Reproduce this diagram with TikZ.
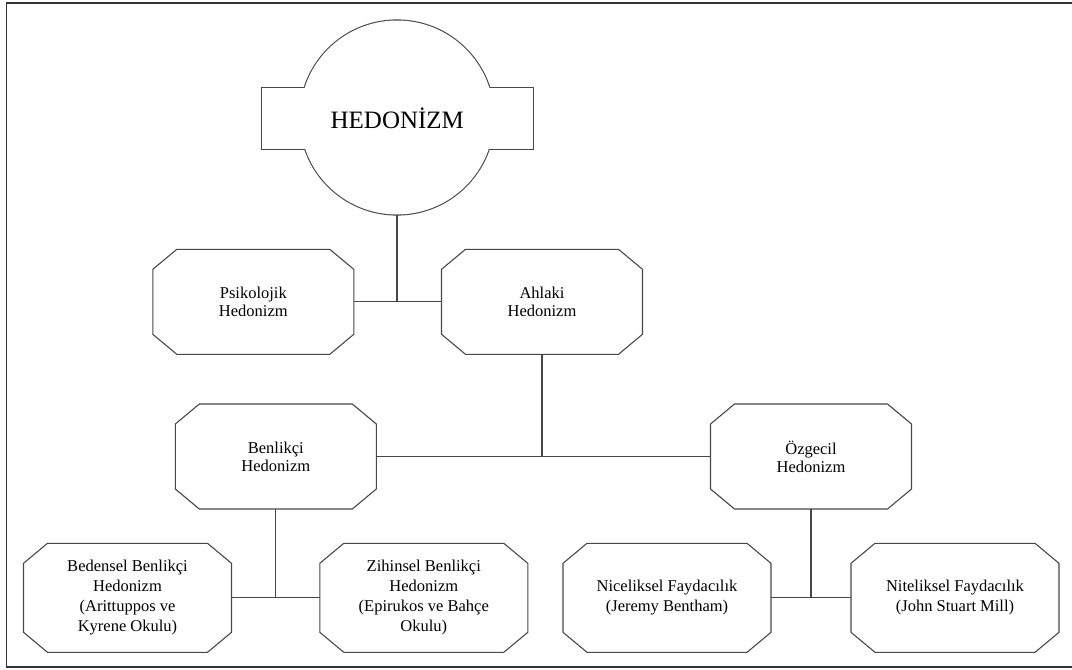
\documentclass[tikz,border=0pt]{standalone}
\usepackage{fontspec}
\setmainfont{Liberation Serif}
\usetikzlibrary{positioning}
\tikzset{
  octbox/.style={rectangle, outer sep=0pt, inner sep=0pt, align=center,
    minimum width=201pt, minimum height=105pt,
    font=\fontsize{16.5}{18}\selectfont},
  octwide/.style={octbox, minimum width=208pt, minimum height=109pt,
    font=\fontsize{16.5}{20}\selectfont},
  boxline/.style={draw=black!72, line width=1.1pt, line join=round},
  joinline/.style={draw=black!72, line width=1.1pt},
  frame/.style={draw=black!80, line width=1.8pt},
  headshape/.style={draw=black!72, line width=2.2pt, inner sep=0pt, outer sep=0pt}
}
\begin{document}
\begin{tikzpicture}[x=1pt, y=-1pt]
  \useasboundingbox (0,0) rectangle (1072,670);
  \draw[frame] (6.5,3) rectangle (1085,667);

  % top: circle crossed by a box
  \node[headshape, circle, minimum size=194pt] (hedonizm) at (397,117.5) {};
  \node[headshape, rectangle, minimum width=271pt, minimum height=61pt] (headbar) at (397.3,118.5) {};
  \fill[white] (hedonizm.center) circle (97pt);
  \fill[white] (headbar.south west) rectangle (headbar.north east);
  \node[font=\fontsize{25}{30}\selectfont] (headtext) at (headbar) {HEDONİZM};

  \node[octbox] (psik) at (253.3,301.8) {Psikolojik\\Hedonizm};
  \node[octbox, right=87.7pt of psik] (ahlak) {Ahlaki\\Hedonizm};

  \node[octbox] (benlik) at (275.8,456.5) {Benlikçi\\Hedonizm};
  \node[octbox] (ozgecil) at (811,456.5) {Özgecil\\Hedonizm};

  \node[octwide] (bedensel) at (127.5,597.8) {Bedensel Benlikçi\\Hedonizm\\(Arittuppos ve\\Kyrene Okulu)};
  \node[octwide, right=88.3pt of bedensel] (zihinsel) {Zihinsel Benlikçi\\Hedonizm\\(Epirukos ve Bahçe\\Okulu)};
  \node[octwide] (nicel) at (667,597.8) {Niceliksel Faydacılık\\(Jeremy Bentham)};
  \node[octwide, right=80pt of nicel] (nitel) {Niteliksel Faydacılık\\(John Stuart Mill)};

  % cut corners
  \foreach \n in {psik,ahlak,benlik,ozgecil,bedensel,zihinsel,nicel,nitel}
    \draw[boxline] ([xshift=24pt]\n.north west) -- ([xshift=-24pt]\n.north east)
      -- ([yshift=-20pt]\n.north east) -- ([yshift=20pt]\n.south east)
      -- ([xshift=-24pt]\n.south east) -- ([xshift=24pt]\n.south west)
      -- ([yshift=20pt]\n.south west) -- ([yshift=-20pt]\n.north west) -- cycle;

  \draw[joinline] (psik.east) -- (ahlak.west);
  \draw[joinline] (hedonizm.south) -- (hedonizm.south |- psik.east);
  \draw[joinline] (benlik.east) -- (ozgecil.west);
  \draw[joinline] (ahlak.south) -- (ahlak.south |- benlik.east);
  \draw[joinline] (bedensel.east) -- (zihinsel.west);
  \draw[joinline] (benlik.south) -- (benlik.south |- bedensel.east);
  \draw[joinline] (nicel.east) -- (nitel.west);
  \draw[joinline] (ozgecil.south) -- (ozgecil.south |- nicel.east);
\end{tikzpicture}
\end{document}
